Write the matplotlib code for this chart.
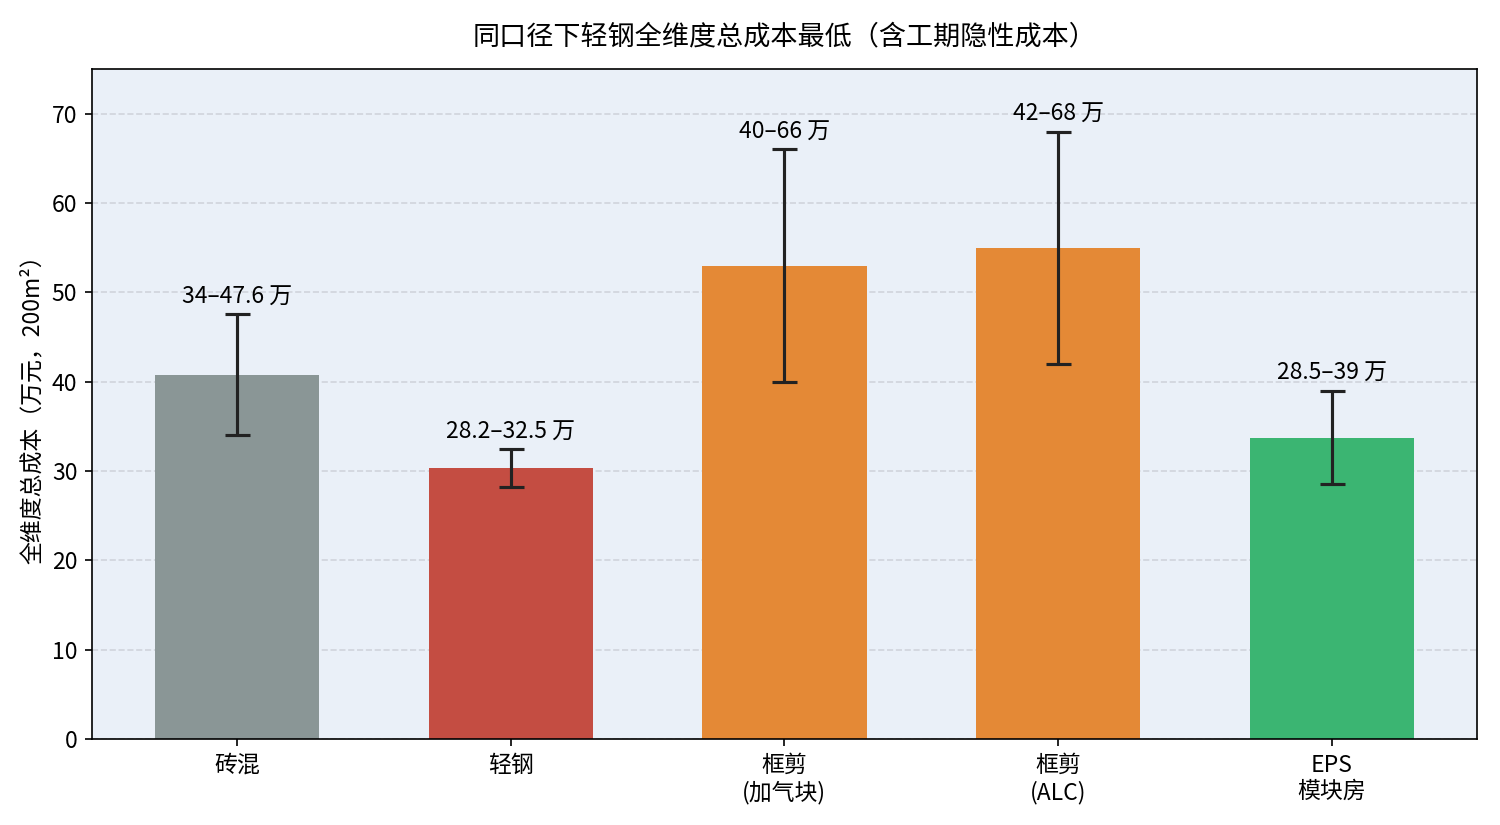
import matplotlib
matplotlib.use("Agg")
import matplotlib.pyplot as plt
import numpy as np

plt.rcParams['font.family'] = ['Noto Sans CJK SC', 'DejaVu Sans']
plt.rcParams['axes.unicode_minus'] = False

# data
categories = ["砖混", "轻钢", "框剪\n(加气块)", "框剪\n(ALC)", "EPS\n模块房"]
cost_low = [34, 28.2, 40, 42, 28.5]
cost_high = [47.6, 32.5, 66, 68, 39]
range_labels = ["34–47.6 万", "28.2–32.5 万", "40–66 万", "42–68 万", "28.5–39 万"]
bar_colors = ["#8a9696", "#c44d42", "#e48936", "#e48936", "#3bb572"]

low = np.array(cost_low)
high = np.array(cost_high)
mid = (low + high) / 2
yerr = [mid - low, high - mid]

fig = plt.figure(figsize=(10, 5.5), dpi=150)
ax = fig.add_axes([0.0613, 0.1042, 0.9233, 0.8122])
ax.set_facecolor("#eaf0f8")
ax.set_axisbelow(True)
ax.grid(axis="y", linestyle="--", color="#d0d4dc", linewidth=0.8)

x = np.arange(len(categories))
ax.bar(x, mid, width=0.6, color=bar_colors, zorder=2)
ax.errorbar(x, mid, yerr=yerr, fmt="none", ecolor="#222222",
            elinewidth=1.5, capsize=6, capthick=1.5, zorder=3)
for xi, hi, lab in zip(x, high, range_labels):
    ax.text(xi, hi + 0.6, lab, ha="center", va="bottom", fontsize=11)

ax.set_xticks(x)
ax.set_xticklabels(categories, fontsize=11)
ax.set_ylim(0, 75)
ax.set_yticks(range(0, 71, 10))
ax.tick_params(axis="y", labelsize=11)
ax.set_ylabel("全维度总成本（万元，200m²）", fontsize=11)
ax.set_title("同口径下轻钢全维度总成本最低（含工期隐性成本）", fontsize=13, pad=12)

fig.savefig("out.png", dpi=150)
